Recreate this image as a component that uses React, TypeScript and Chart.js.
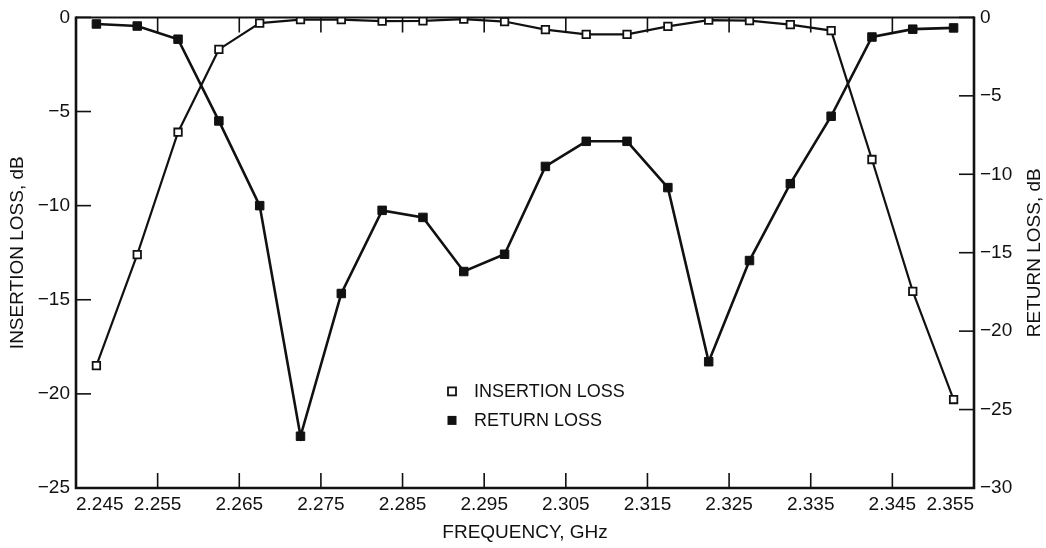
import React, { useEffect, useRef } from "react";
import { Chart, registerables } from "chart.js";

Chart.register(...registerables);

const FREQ_GHZ = [
  2.2475, 2.2525, 2.2575, 2.2625, 2.2675, 2.2725, 2.2775, 2.2825, 2.2875, 2.2925, 2.2975,
  2.3025, 2.3075, 2.3125, 2.3175, 2.3225, 2.3275, 2.3325, 2.3375, 2.3425, 2.3475, 2.3525,
];

const INSERTION_LOSS_DB = [
  -18.5, -12.6, -6.1, -1.7, -0.3, -0.12, -0.12, -0.2, -0.18, -0.09, -0.22,
  -0.65, -0.9, -0.9, -0.48, -0.15, -0.17, -0.38, -0.7, -7.55, -14.55, -20.3,
];

const RETURN_LOSS_DB = [
  -0.42, -0.55, -1.39, -6.6, -12.0, -26.7, -17.6, -12.3, -12.75, -16.2, -15.1,
  -9.5, -7.9, -7.9, -10.85, -21.95, -15.5, -10.6, -6.3, -1.25, -0.75, -0.67,
];

const X_TICKS = [2.245, 2.255, 2.265, 2.275, 2.285, 2.295, 2.305, 2.315, 2.325, 2.335, 2.345, 2.355];
const Y_LEFT_TICKS = [0, -5, -10, -15, -20, -25];
const Y_RIGHT_TICKS = [0, -5, -10, -15, -20, -25, -30];

const LEGEND_LABELS = ["INSERTION LOSS", "RETURN LOSS"];
const X_TITLE = "FREQUENCY, GHz";
const Y_LEFT_TITLE = "INSERTION LOSS, dB";
const Y_RIGHT_TITLE = "RETURN LOSS, dB";

const FONT_FAMILY = "'Liberation Sans', Arial, Helvetica, sans-serif";
const INK = "#111";

const fmtNum = (v: number) => {
  const s = String(Math.round(v));
  return s.replace("-", "\u2212");
};

const decorPlugin = {
  id: "decor",
  afterDraw(chart: any) {
    const { ctx, chartArea } = chart;
    const { left, right, top, bottom } = chartArea;
    const xs = chart.scales.x;
    const yl = chart.scales.yL;
    const yr = chart.scales.yR;
    ctx.save();
    ctx.strokeStyle = INK;
    ctx.lineCap = "butt";

    // tick marks (inward)
    ctx.lineWidth = 1.6;
    const TL = 15;
    xs.ticks.forEach((t: any) => {
      const px = xs.getPixelForValue(t.value);
      if (px <= left + 2 || px >= right - 2) return;
      ctx.beginPath();
      ctx.moveTo(px, bottom);
      ctx.lineTo(px, bottom - TL);
      ctx.moveTo(px, top);
      ctx.lineTo(px, top + TL);
      ctx.stroke();
    });
    yl.ticks.forEach((t: any) => {
      const py = yl.getPixelForValue(t.value);
      ctx.beginPath();
      ctx.moveTo(left, py);
      ctx.lineTo(left + TL, py);
      ctx.stroke();
    });
    yr.ticks.forEach((t: any) => {
      const py = yr.getPixelForValue(t.value);
      ctx.beginPath();
      ctx.moveTo(right, py);
      ctx.lineTo(right - TL, py);
      ctx.stroke();
    });

    // frame
    ctx.lineWidth = 2.6;
    ctx.beginPath();
    ctx.moveTo(left, top - 1);
    ctx.lineTo(left, bottom);
    ctx.lineTo(right, bottom);
    ctx.lineTo(right, top - 1);
    ctx.stroke();
    ctx.lineWidth = 2;
    ctx.beginPath();
    ctx.moveTo(left, top);
    ctx.lineTo(right, top);
    ctx.stroke();

    // titles
    ctx.fillStyle = INK;
    ctx.font = `19px ${FONT_FAMILY}`;
    ctx.textAlign = "center";
    ctx.textBaseline = "middle";
    ctx.fillText(X_TITLE, (left + right) / 2, bottom + 45);
    const midY = (top + bottom) / 2;
    ctx.save();
    ctx.translate(18, midY);
    ctx.rotate(-Math.PI / 2);
    ctx.fillText(Y_LEFT_TITLE, 0, 0);
    ctx.restore();
    ctx.save();
    ctx.translate(right + 61, midY);
    ctx.rotate(-Math.PI / 2);
    ctx.fillText(Y_RIGHT_TITLE, 0, 0);
    ctx.restore();

    // legend
    ctx.font = `18px ${FONT_FAMILY}`;
    const lx = left + 376;
    const ly1 = top + 374;
    const ly2 = top + 403;
    const sq = 8;
    ctx.lineWidth = 1.8;
    ctx.fillStyle = "#fff";
    ctx.fillRect(lx - sq / 2, ly1 - sq / 2, sq, sq);
    ctx.strokeRect(lx - sq / 2, ly1 - sq / 2, sq, sq);
    ctx.fillStyle = INK;
    ctx.fillRect(lx - sq / 2 - 0.5, ly2 - sq / 2 - 0.5, sq + 1, sq + 1);
    ctx.textAlign = "left";
    ctx.fillText(LEGEND_LABELS[0], lx + 22, ly1 + 1);
    ctx.fillText(LEGEND_LABELS[1], lx + 22, ly2 + 1);
    ctx.restore();
  },
};

export default function App() {
  const canvasRef = useRef<HTMLCanvasElement | null>(null);

  useEffect(() => {
    if (!canvasRef.current) return;
    const ilData = FREQ_GHZ.map((f, i) => ({ x: f, y: INSERTION_LOSS_DB[i] }));
    const rlData = FREQ_GHZ.map((f, i) => ({ x: f, y: RETURN_LOSS_DB[i] }));
    const tickFont = { family: FONT_FAMILY, size: 19 };

    const chart = new Chart(canvasRef.current, {
      type: "line",
      data: {
        datasets: [
          {
            label: LEGEND_LABELS[0],
            data: ilData,
            yAxisID: "yL",
            borderColor: INK,
            borderWidth: 2.2,
            pointStyle: "rect",
            pointRadius: 5.3,
            pointBorderWidth: 1.8,
            pointBackgroundColor: "#fff",
            pointBorderColor: INK,
            tension: 0,
          },
          {
            label: LEGEND_LABELS[1],
            data: rlData,
            yAxisID: "yR",
            borderColor: INK,
            borderWidth: 2.6,
            pointStyle: "rect",
            pointRadius: 6,
            pointBorderWidth: 1,
            pointBackgroundColor: INK,
            pointBorderColor: INK,
            tension: 0,
          },
        ],
      },
      options: {
        responsive: false,
        animation: false,
        layout: { padding: { top: 15, left: 0, right: 0, bottom: 0 } },
        plugins: {
          legend: { display: false },
          tooltip: { enabled: false },
        },
        scales: {
          x: {
            type: "linear",
            position: "bottom",
            min: 2.245,
            max: 2.355,
            grid: { display: false, drawTicks: false },
            border: { display: false },
            afterBuildTicks: (scale: any) => {
              scale.ticks = X_TICKS.map((v) => ({ value: v }));
            },
            afterFit: (scale: any) => {
              scale.height = 60;
            },
            ticks: {
              font: tickFont,
              color: INK,
              padding: 5,
              align: "inner",
              maxRotation: 0,
              autoSkip: false,
              callback: (v: any) => Number(v).toFixed(3),
            },
          },
          yL: {
            type: "linear",
            position: "left",
            min: -25,
            max: 0,
            grid: { display: false, drawTicks: false },
            border: { display: false },
            afterBuildTicks: (scale: any) => {
              scale.ticks = Y_LEFT_TICKS.map((v) => ({ value: v }));
            },
            afterFit: (scale: any) => {
              scale.width = 76;
            },
            ticks: {
              font: tickFont,
              color: INK,
              padding: 6,
              autoSkip: false,
              callback: (v: any) => fmtNum(Number(v)),
            },
          },
          yR: {
            type: "linear",
            position: "right",
            min: -30,
            max: 0,
            grid: { display: false, drawTicks: false },
            border: { display: false },
            afterBuildTicks: (scale: any) => {
              scale.ticks = Y_RIGHT_TICKS.map((v) => ({ value: v }));
            },
            afterFit: (scale: any) => {
              scale.width = 72;
            },
            ticks: {
              font: tickFont,
              color: INK,
              padding: 6,
              autoSkip: false,
              callback: (v: any) => fmtNum(Number(v)),
            },
          },
        },
      } as any,
      plugins: [decorPlugin],
    });

    return () => {
      chart.destroy();
    };
  }, []);

  return (
    <div
      style={{
        position: "absolute",
        left: 0,
        top: 0,
        width: 1046,
        height: 548,
        background: "#fff",
      }}
    >
      <canvas ref={canvasRef} width={1046} height={548} />
    </div>
  );
}
